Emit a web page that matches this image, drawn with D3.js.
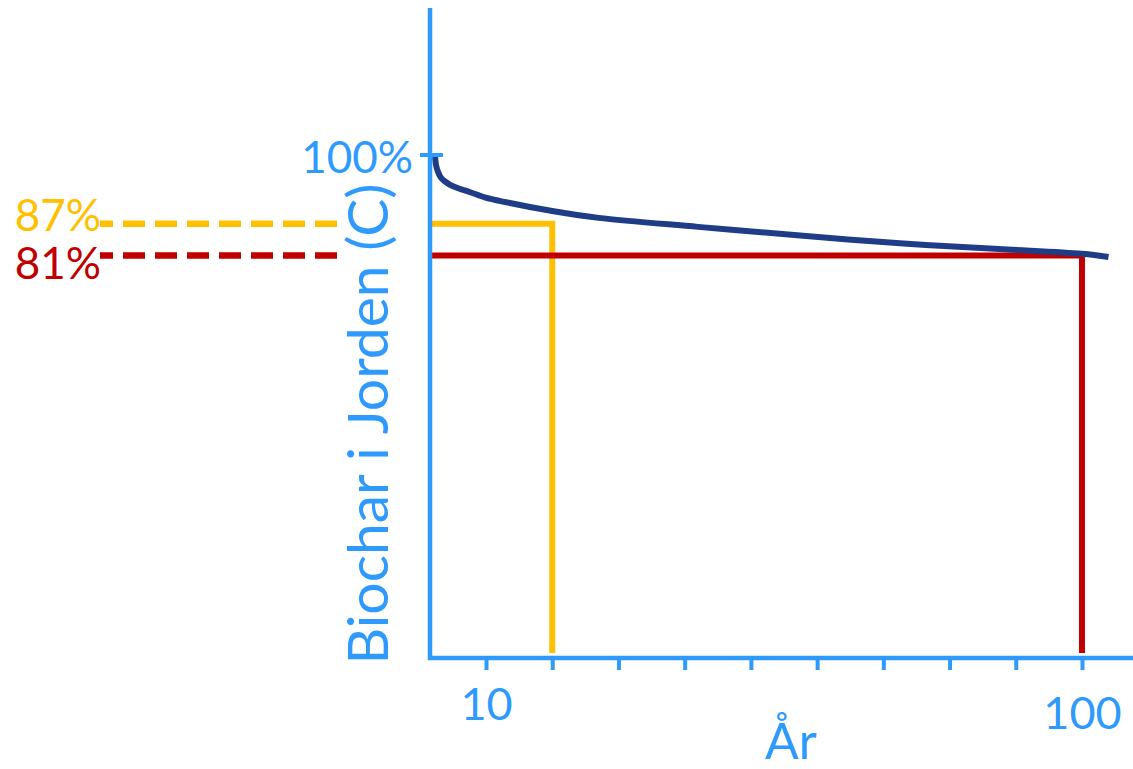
<!DOCTYPE html>
<html>
<head>
<meta charset="utf-8">
<script src="https://cdn.jsdelivr.net/npm/d3@7"></script>
<style>
  body { margin: 0; background: #fff; }
  svg text { font-family: "Lato", "Noto Sans", sans-serif; }
</style>
</head>
<body>
<svg id="chart" width="1133" height="769"></svg>
<script>

// biochar left in soil
const years    = [2.3, 2.45, 2.75, 3.2, 3.8, 4.5, 5.6, 6.8, 9.8, 12.9, 20, 27, 42, 57, 72.5, 87.5, 100, 104];
const retained = [100, 98.1, 96.8, 95.7, 95.0, 94.4, 93.8, 93.3, 92.0, 91.1, 89.4, 88.1, 86.4, 84.8, 83.3, 82.2, 81.3, 80.7];

const markerYears  = [20, 100];
const markerValues = [87, 81];
const markerLabels = ["87%", "81%"];

const xTicks      = [10, 20, 30, 40, 50, 60, 70, 80, 90, 100];
const xTickLabels = ["10", "", "", "", "", "", "", "", "", "100"];
const yTickValue  = 100;
const yTickLabel  = "100%";

const vis = {

    colors : {
        axis : "#2E9AFE",
        curve : "#1F3D87",
        markers : ["#FFC000", "#C00000"]
    },

    svg : d3.select("#chart"),

    x : d3.scaleLinear().domain([0, 105]).range([419.8, 1115.1]),
    y : d3.scaleLinear().domain([5, 100]).range([657, 155]),

    axes : {

        draw : function() {

            const svg = vis.svg;
            const c = vis.colors.axis;

            // y axis line
            svg.append("line")
              .attr("x1", 430).attr("x2", 430)
              .attr("y1", 8).attr("y2", 660)
              .attr("stroke", c)
              .attr("stroke-width", 4.5);

            // x axis line
            svg.append("line")
              .attr("x1", 428).attr("x2", 1133)
              .attr("y1", 658).attr("y2", 658)
              .attr("stroke", c)
              .attr("stroke-width", 4.5);

            const xAxis = d3.axisBottom(vis.x)
              .tickValues(xTicks)
              .tickSize(12)
              .tickFormat((d, i) => xTickLabels[i]);

            const gx = svg.append("g")
              .attr("transform", "translate(0,658)")
              .call(xAxis);

            gx.select(".domain").remove();
            gx.selectAll(".tick line")
              .attr("stroke", c)
              .attr("stroke-width", 4);
            gx.selectAll(".tick text")
              .attr("fill", c)
              .attr("font-size", 45)
              .attr("y", (d) => d === 100 ? 26 : 17)
              .attr("dy", "1em");

            // single 100% tick on y axis
            svg.append("line")
              .attr("x1", 420).attr("x2", 443)
              .attr("y1", vis.y(yTickValue)).attr("y2", vis.y(yTickValue))
              .attr("stroke", c)
              .attr("stroke-width", 4);

            svg.append("text")
              .attr("x", 413)
              .attr("y", vis.y(yTickValue) + 18)
              .attr("text-anchor", "end")
              .attr("font-size", 44)
              .attr("fill", c)
              .text(yTickLabel);

            svg.append("text")
              .attr("transform", "translate(388,424) rotate(-90)")
              .attr("text-anchor", "middle")
              .attr("font-size", 57)
              .attr("fill", c)
              .text("Biochar i Jorden (C)");

            svg.append("text")
              .attr("x", 791)
              .attr("y", 759)
              .attr("text-anchor", "middle")
              .attr("font-size", 50)
              .attr("fill", c)
              .text("År");
        }
    },

    markers : {

        labelShift : [7, 24],

        draw : function() {

            const svg = vis.svg;

            markerYears.forEach((yr, i) => {

                const col = vis.colors.markers[i];
                const px = vis.x(yr);
                const py = vis.y(markerValues[i]);

                svg.append("path")
                  .attr("d", `M432,${py}H${px}V653`)
                  .attr("fill", "none")
                  .attr("stroke", col)
                  .attr("stroke-width", 6);

                svg.append("line")
                  .attr("x1", 337).attr("x2", 100)
                  .attr("y1", py).attr("y2", py)
                  .attr("stroke", col)
                  .attr("stroke-width", 6.5)
                  .attr("stroke-dasharray", "22,10");

                svg.append("text")
                  .attr("x", 101)
                  .attr("y", py + this.labelShift[i])
                  .attr("text-anchor", "end")
                  .attr("font-size", 44)
                  .attr("fill", col)
                  .text(markerLabels[i]);
            });
        }
    },

    curve : {

        draw : function() {

            const line = d3.line()
              .x((d) => vis.x(d[0]))
              .y((d) => vis.y(d[1]))
              .curve(d3.curveCatmullRom.alpha(0.5));

            vis.svg.append("path")
              .datum(d3.zip(years, retained))
              .attr("d", line)
              .attr("fill", "none")
              .attr("stroke", vis.colors.curve)
              .attr("stroke-width", 6);
        }
    },

    ctrl : {

        init : function() {
            vis.markers.draw();
            vis.curve.draw();
            vis.axes.draw();
        }
    }
}

vis.ctrl.init();
</script>
</body>
</html>
